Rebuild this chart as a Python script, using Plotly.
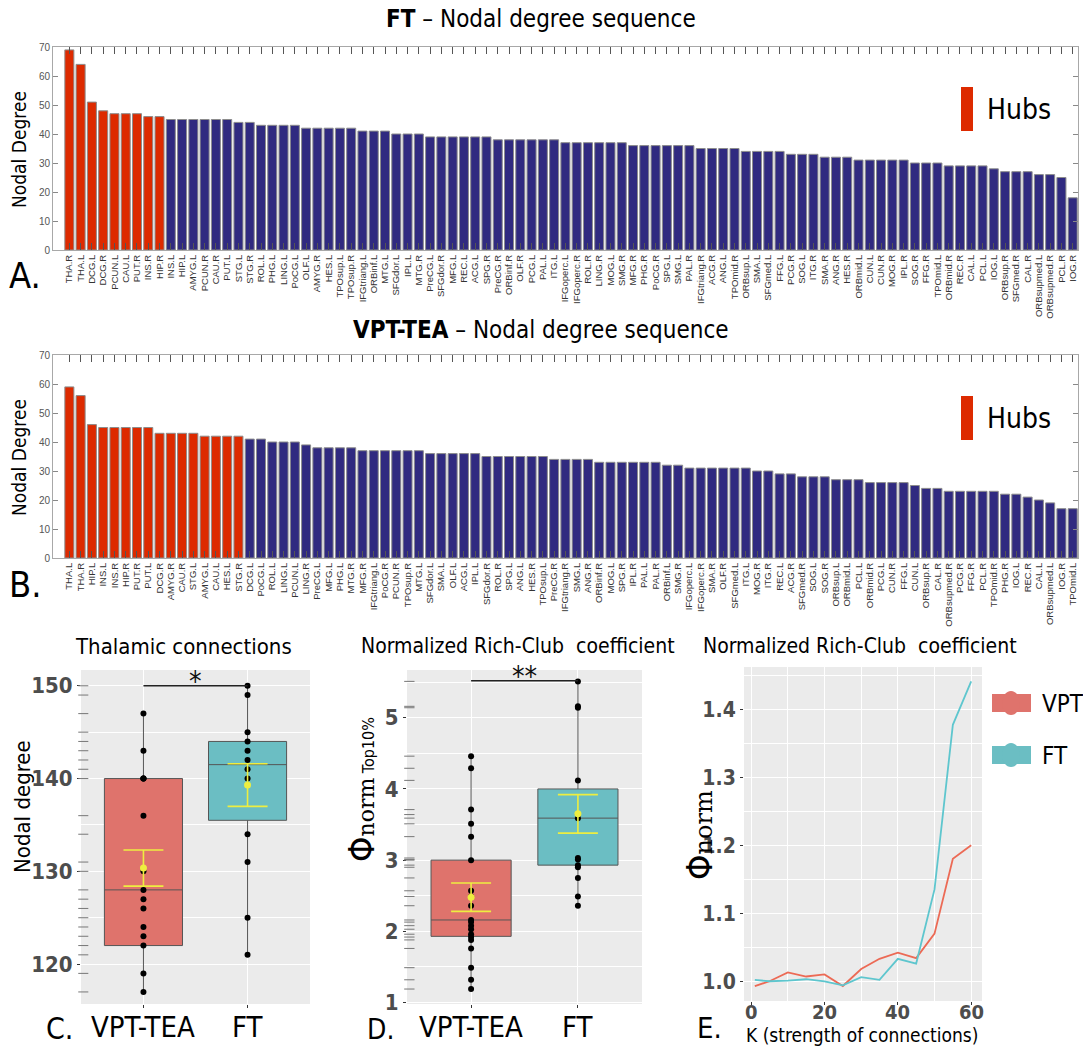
import plotly.graph_objects as go

W, H = 1083, 1047

# ---------------- Panel A: FT nodal degree sequence ----------------
ft_regions = ["THA.R", "THA.L", "DCG.L", "DCG.R", "PCUN.L", "CAU.L", "PUT.R", "INS.R", "HIP.R",
              "INS.L", "HIP.L", "AMYG.L", "PCUN.R", "CAU.R", "PUT.L", "STG.L", "STG.R", "ROL.L",
              "PHG.L", "LING.L", "PoCG.L", "OLF.L", "AMYG.R", "HES.L", "TPOsup.L", "TPOsup.R",
              "IFGtriang.L", "ORBinf.L", "MTG.L", "SFGdor.L", "IPL.L", "MTG.R", "PreCG.L",
              "SFGdor.R", "MFG.L", "REC.L", "ACG.L", "SPG.R", "PreCG.R", "ORBinf.R", "OLF.R",
              "PCG.L", "PAL.L", "ITG.L", "IFGoperc.L", "IFGoperc.R", "ROL.R", "LING.R", "MOG.L",
              "SMG.R", "MFG.R", "PHG.R", "PoCG.R", "SPG.L", "SMG.L", "PAL.R", "IFGtriang.R",
              "ACG.R", "ANG.L", "TPOmid.R", "ORBsup.L", "SMA.L", "SFGmed.L", "FFG.L", "PCG.R",
              "SOG.L", "ITG.R", "SMA.R", "ANG.R", "HES.R", "ORBmid.L", "CUN.L", "CUN.R", "MOG.R",
              "IPL.R", "SOG.R", "FFG.R", "TPOmid.L", "ORBmid.R", "REC.R", "CAL.L", "PCL.L",
              "IOG.L", "ORBsup.R", "SFGmed.R", "CAL.R", "ORBsupmed.L", "ORBsupmed.R", "PCL.R",
              "IOG.R"]
ft_degree = [69, 64, 51, 48, 47, 47, 47, 46, 46,
             45, 45, 45, 45, 45, 45, 44, 44, 43,
             43, 43, 43, 42, 42, 42, 42, 42,
             41, 41, 41, 40, 40, 40, 39,
             39, 39, 39, 39, 39, 38, 38, 38,
             38, 38, 38, 37, 37, 37, 37, 37,
             37, 36, 36, 36, 36, 36, 36, 35,
             35, 35, 35, 34, 34, 34, 34, 33,
             33, 33, 32, 32, 32, 31, 31, 31, 31,
             31, 30, 30, 30, 29, 29, 29, 29,
             28, 27, 27, 27, 26, 26, 25,
             18]
ft_n_hubs = 9

# ---------------- Panel B: VPT-TEA nodal degree sequence ----------------
vpt_regions = ["THA.L", "THA.R", "HIP.L", "INS.L", "INS.R", "HIP.R", "PUT.R", "PUT.L", "DCG.R",
               "AMYG.R", "CAU.R", "STG.L", "AMYG.L", "CAU.L", "HES.L", "STG.R", "DCG.L", "PoCG.L",
               "ROL.L", "LING.L", "PCUN.L", "LING.R", "PreCG.L", "MFG.L", "PHG.L", "MTG.R",
               "MFG.R", "IFGtriang.L", "PoCG.R", "PCUN.R", "TPOsup.R", "MTG.L", "SFGdor.L",
               "SMA.L", "OLF.L", "ACG.L", "IPL.L", "SFGdor.R", "ROL.R", "SPG.L", "ANG.L", "HES.R",
               "TPOsup.L", "PreCG.R", "IFGtriang.R", "SMG.L", "ANG.R", "ORBinf.R", "MOG.L",
               "SPG.R", "IPL.R", "PAL.L", "PAL.R", "ORBinf.L", "SMG.R", "IFGoperc.L",
               "IFGoperc.R", "SMA.R", "OLF.R", "SFGmed.L", "ITG.L", "MOG.R", "ITG.R", "REC.L",
               "ACG.R", "SFGmed.R", "SOG.L", "SOG.R", "ORBsup.L", "ORBmid.L", "PCL.L", "ORBmid.R",
               "PCG.L", "CUN.R", "FFG.L", "CUN.L", "ORBsup.R", "CAL.R", "ORBsupmed.R", "PCG.R",
               "FFG.R", "PCL.R", "TPOmid.R", "PHG.R", "IOG.L", "REC.R", "CAL.L", "ORBsupmed.L",
               "IOG.R", "TPOmid.L"]
vpt_degree = [59, 56, 46, 45, 45, 45, 45, 45, 43,
              43, 43, 43, 42, 42, 42, 42, 41, 41,
              40, 40, 40, 39, 38, 38, 38, 38,
              37, 37, 37, 37, 37, 37, 36,
              36, 36, 36, 36, 35, 35, 35, 35, 35,
              35, 34, 34, 34, 34, 33, 33,
              33, 33, 33, 33, 32, 32, 31,
              31, 31, 31, 31, 31, 30, 30, 29,
              29, 28, 28, 28, 27, 27, 27, 26,
              26, 26, 26, 25, 24, 24, 23, 23,
              23, 23, 23, 22, 22, 21, 20, 19,
              17, 17]
vpt_n_hubs = 16

# ---------------- Panel C: thalamic connections ----------------
groups = ["VPT-TEA", "FT"]
thal_vpt_points = [147, 143, 140, 140, 140, 136, 130, 128, 127, 126, 124, 123, 122, 119, 117]
thal_ft_points = [150, 149, 145, 144, 143, 142, 141, 140, 134, 131, 125, 121]
thal_q1 = [122, 135.5]
thal_median = [128, 141.5]
thal_q3 = [140, 144]
thal_low = [117, 121]
thal_high = [147, 150]
thal_mean = [130.35, 139.3]
thal_se = [1.95, 2.3]
thal_sig_level = 150
thal_sig_text = "*"

# ---------------- Panel D: normalized rich-club (top 10%) ----------------
rc_vpt_points = [4.46, 4.29, 3.71, 3.51, 3.33, 3.00, 2.57, 2.49, 2.36, 2.16, 2.13, 2.08, 2.03,
                 1.96, 1.92, 1.88, 1.76, 1.49, 1.32, 1.19]
rc_ft_points = [5.51, 5.16, 5.14, 4.12, 3.64, 3.59, 3.03, 3.01, 2.93, 2.90, 2.75, 2.49, 2.36]
rc_q1 = [1.93, 2.93]
rc_median = [2.16, 3.59]
rc_q3 = [3.0, 4.0]
rc_low = [1.19, 2.36]
rc_high = [4.46, 5.51]
rc_mean = [2.48, 3.65]
rc_se = [0.2, 0.27]
rc_sig_level = 5.52
rc_sig_text = "**"

# ---------------- Panel E: normalized rich-club curve ----------------
k_values = [1, 5, 10, 15, 20, 25, 30, 35, 40, 45, 50, 55, 60]
phi_vpt = [0.994, 1.001, 1.014, 1.008, 1.011, 0.994, 1.019, 1.034, 1.043, 1.035, 1.071, 1.181, 1.201]
phi_ft = [1.003, 1.001, 1.002, 1.004, 1.001, 0.995, 1.007, 1.003, 1.034, 1.027, 1.136, 1.378, 1.442]
k_ticks = [0, 20, 40, 60]

# ---------------- styling ----------------
RED = "#DD2A00"
NAVY = "#302A80"
C_VPT_BOX = "#DF736C"
C_FT_BOX = "#6BBEC3"
C_VPT_LINE = "#EC6A55"
C_FT_LINE = "#5EC6CE"
YELLOW = "#EEEE40"
NARROW = "DejaVu Sans Condensed, Liberation Sans Narrow, Liberation Sans, Arial, sans-serif"
HELV = "Liberation Sans, Arial, sans-serif"


def fx(px):
    return px / W


def fy(py):
    return 1 - py / H


fig = go.Figure()

# Bars
for ax, regions, degree, nh in [("", ft_regions, ft_degree, ft_n_hubs),
                                ("2", vpt_regions, vpt_degree, vpt_n_hubs)]:
    colors = [RED if i < nh else NAVY for i in range(len(regions))]
    fig.add_trace(go.Bar(x=regions, y=degree, width=0.8,
                         marker=dict(color=colors, line=dict(color="#8c8c8c", width=1)),
                         xaxis="x" + ax, yaxis="y" + ax, showlegend=False, hoverinfo="x+y"))

# Box panels
box_fill = [C_VPT_BOX, C_FT_BOX]
for ax, q1, med, q3, lo, hi, mean, se, pts in [
        ("3", thal_q1, thal_median, thal_q3, thal_low, thal_high, thal_mean, thal_se,
         [thal_vpt_points, thal_ft_points]),
        ("4", rc_q1, rc_median, rc_q3, rc_low, rc_high, rc_mean, rc_se,
         [rc_vpt_points, rc_ft_points])]:
    for i, g in enumerate(groups):
        fig.add_trace(go.Box(x=[g], q1=[q1[i]], median=[med[i]], q3=[q3[i]],
                             lowerfence=[lo[i]], upperfence=[hi[i]],
                             fillcolor=box_fill[i], line=dict(color="#555555", width=1),
                             width=0.75, whiskerwidth=0, boxpoints=False,
                             xaxis="x" + ax, yaxis="y" + ax, showlegend=False))
        fig.add_trace(go.Scatter(x=[g] * len(pts[i]), y=pts[i], mode="markers",
                                 marker=dict(color="black", size=6),
                                 xaxis="x" + ax, yaxis="y" + ax, showlegend=False))
        fig.add_trace(go.Scatter(x=[g], y=[mean[i]], mode="markers",
                                 marker=dict(color=YELLOW, size=7),
                                 error_y=dict(type="data", array=[se[i]], color=YELLOW,
                                              width=20, thickness=1.6),
                                 xaxis="x" + ax, yaxis="y" + ax, showlegend=False))

# Line panel
fig.add_trace(go.Scatter(x=k_values, y=phi_vpt, mode="lines", line=dict(color=C_VPT_LINE, width=1.8),
                         xaxis="x5", yaxis="y5", name="VPT-TEA", showlegend=False))
fig.add_trace(go.Scatter(x=k_values, y=phi_ft, mode="lines", line=dict(color=C_FT_LINE, width=1.8),
                         xaxis="x5", yaxis="y5", name="FT", showlegend=False))

# ---------------- axes ----------------
bar_x = dict(type="category", tickmode="linear", dtick=1, tick0=0, range=[-1.45, 89.47],
             tickangle=-90, tickfont=dict(family=HELV, size=9.5, color="#333"),
             ticks="inside", ticklen=7, tickcolor="#555", showline=True, linecolor="#a8a8a8",
             mirror="ticks", showgrid=False, zeroline=False, automargin=False)
bar_y = dict(range=[0, 70], dtick=10, ticks="inside", ticklen=5, tickcolor="#888",
             tickfont=dict(family=HELV, size=10, color="#555"), showline=True,
             linecolor="#a8a8a8", mirror="ticks", showgrid=False, zeroline=False,
             automargin=False)

gg_common = dict(showgrid=True, gridcolor="white", gridwidth=1.2, zeroline=False,
                 ticks="outside", ticklen=3, tickcolor="#333", showline=False,
                 automargin=False)
gg_tickfont = dict(family=NARROW, size=22, color="#4D4D4D", weight="bold")

layout = dict(
    width=W, height=H, autosize=False, margin=dict(l=0, r=0, t=0, b=0, autoexpand=False),
    paper_bgcolor="white", plot_bgcolor="rgba(0,0,0,0)", showlegend=False, boxmode="overlay",
    xaxis=dict(bar_x, domain=[fx(53), fx(1078)], anchor="y"),
    yaxis=dict(bar_y, domain=[fy(250), fy(47)], anchor="x"),
    xaxis2=dict(bar_x, domain=[fx(53), fx(1078)], anchor="y2"),
    yaxis2=dict(bar_y, domain=[fy(558), fy(355)], anchor="x2"),
    xaxis3=dict(gg_common, domain=[fx(81), fx(310)], anchor="y3", type="category",
                range=[-0.6, 1.6], showticklabels=False),
    yaxis3=dict(gg_common, domain=[fy(1004), fy(670)], anchor="x3", range=[115.7, 151.7],
                dtick=10, tickfont=gg_tickfont,
                minor=dict(showgrid=True, gridcolor="white", gridwidth=0.6, dtick=5)),
    xaxis4=dict(gg_common, domain=[fx(407), fx(642)], anchor="y4", type="category",
                range=[-0.6, 1.6], showticklabels=False),
    yaxis4=dict(gg_common, domain=[fy(1004), fy(670)], anchor="x4", range=[0.98, 5.67],
                dtick=1, tickfont=gg_tickfont,
                minor=dict(showgrid=True, gridcolor="white", gridwidth=0.6, dtick=0.5)),
    xaxis5=dict(gg_common, domain=[fx(744), fx(982)], anchor="y5", range=[-1.95, 62.95],
                tickmode="array", tickvals=k_ticks, ticklen=3, showticklabels=False,
                minor=dict(showgrid=True, gridcolor="white", gridwidth=0.6, dtick=10)),
    yaxis5=dict(gg_common, domain=[fy(1001), fy(667)], anchor="x5", range=[0.972, 1.463],
                dtick=0.1, tickformat=".1f", tickfont=dict(gg_tickfont, size=21),
                minor=dict(showgrid=True, gridcolor="white", gridwidth=0.6, dtick=0.05)),
)
fig.update_layout(**layout)

# ---------------- shapes ----------------
shapes = []
for ax in ["3", "4", "5"]:
    shapes.append(dict(type="rect", xref="x%s domain" % ax, yref="y%s domain" % ax,
                       x0=0, x1=1, y0=0, y1=1, fillcolor="#EBEBEB", line=dict(width=0),
                       layer="below"))

# rug marks along the y axis (one per observed value)
for ax, pts in [("3", thal_vpt_points + thal_ft_points), ("4", rc_vpt_points + rc_ft_points)]:
    for v in sorted(set(pts)):
        shapes.append(dict(type="line", xref="x%s domain" % ax, yref="y" + ax,
                           x0=-0.012, x1=0.032, y0=v, y1=v, line=dict(color="#777", width=1)))

# significance bars
for ax, lvl in [("3", thal_sig_level), ("4", rc_sig_level)]:
    shapes.append(dict(type="line", xref="x" + ax, yref="y" + ax, x0=0, x1=len(groups) - 1,
                       y0=lvl, y1=lvl, line=dict(color="#222", width=1.5)))

# Hubs legend patches
for top in [87, 396]:
    shapes.append(dict(type="rect", xref="paper", yref="paper", x0=fx(961), x1=fx(973),
                       y0=fy(top + 44), y1=fy(top), fillcolor=RED, line=dict(width=0)))

# E legend keys
for cy, col in [(703, C_VPT_BOX), (755, C_FT_BOX)]:
    shapes.append(dict(type="rect", xref="paper", yref="paper", x0=fx(992), x1=fx(1031),
                       y0=fy(cy + 9), y1=fy(cy - 9), fillcolor=col, line=dict(width=0)))
    shapes.append(dict(type="circle", xref="paper", yref="paper", x0=fx(1002), x1=fx(1020),
                       y0=fy(cy + 12), y1=fy(cy - 12), fillcolor=col, line=dict(width=0)))

fig.update_layout(shapes=shapes)

# ---------------- annotations ----------------
ann = []


def text(x, y, s, size, family=NARROW, color="black", angle=0, xanchor="center", **kw):
    ann.append(dict(x=fx(x), y=fy(y), xref="paper", yref="paper", text=s, showarrow=False,
                    font=dict(family=family, size=size, color=color), textangle=angle,
                    xanchor=xanchor, yanchor="middle", **kw))


text(541, 19, "<b>FT</b> – Nodal degree sequence", 24)
text(541, 330, "<b>VPT-TEA</b> – Nodal degree sequence", 24)
text(19, 150, "Nodal Degree", 19, angle=-90)
text(19, 458, "Nodal Degree", 19, angle=-90)
text(25, 276, "A.", 36)
text(25, 584, "B.", 36)
for top in [87, 396]:
    text(985, top + 23, "Hubs", 28, xanchor="left")

text(183, 646, "Thalamic connections", 22)
text(518, 646, "Normalized Rich-Club  coefficient", 21)
text(860, 646, "Normalized Rich-Club  coefficient", 21)
text(22, 807, "Nodal degree", 22, angle=-90)
text(361, 790,
     "<span style='font-size:36px'>Φ</span><span style='font-family:DejaVu Serif'>norm</span>"
     "<span style='font-size:16px'> Top10%</span>", 22, angle=-90)
text(699, 835,
     "<span style='font-size:36px'>Φ</span><span style='font-family:DejaVu Serif;"
     "font-size:24px'>norm</span>", 22, angle=-90)
text(862, 1035, "K (strength of connections)", 19)
text(59, 1028, "C.", 30)
text(380, 1029, "D.", 28)
text(709, 1028, "E.", 29)

# category labels under the box panels
for ax in ["3", "4"]:
    for g in groups:
        ann.append(dict(x=g, xref="x" + ax, y=fy(1027), yref="paper", text=g,
                        showarrow=False, yanchor="middle",
                        font=dict(family=NARROW, size=29, color="black")))

# K tick labels of panel E
for k in k_ticks:
    ann.append(dict(x=k, xref="x5", y=fy(1012), yref="paper", text=str(k), showarrow=False,
                    yanchor="middle", font=dict(family=NARROW, size=20, color="#4D4D4D",
                                                weight="bold")))

# significance stars
ann.append(dict(x=0.5, y=thal_sig_level, xref="x3", yref="y3", text=thal_sig_text,
                showarrow=False, yanchor="middle", yshift=4,
                font=dict(family=NARROW, size=28, color="#111")))
ann.append(dict(x=0.5, y=rc_sig_level, xref="x4", yref="y4", text=rc_sig_text,
                showarrow=False, yanchor="middle", yshift=4,
                font=dict(family=NARROW, size=28, color="#111")))

# E legend labels
text(1040, 704, "VPT", 24, xanchor="left")
text(1040, 756, "FT", 24, xanchor="left")

fig.update_layout(annotations=ann)

fig.write_html("out.html", post_script="document.body.style.margin='0';",
               config={"displayModeBar": False})
